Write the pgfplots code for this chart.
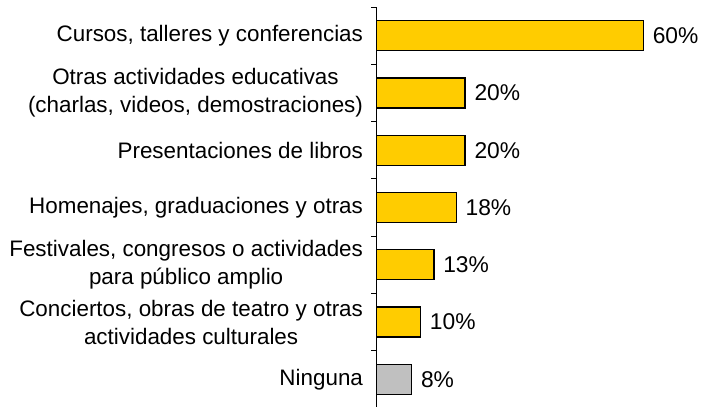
\documentclass[border=0pt]{standalone}
\usepackage{pgfplots}
\pgfplotsset{compat=1.18}
\usepackage{fontspec}
\setmainfont{Liberation Sans}
\definecolor{barY}{HTML}{FFCC00}
\definecolor{barG}{HTML}{C0C0C0}
\begin{document}
\begin{tikzpicture}
\useasboundingbox (0,0) rectangle (352pt,203pt);
\begin{axis}[
  at={(188pt,-1pt)}, anchor=south west,
  scale only axis, width=156pt, height=200.5pt,
  xbar, bar width=15pt,
  xmin=0, xmax=70,
  ymin=-0.5, ymax=6.5, y dir=reverse,
  axis x line=none, axis y line*=left,
  ytick={0,...,6},
  yticklabels={{Cursos, talleres y conferencias},
    {Otras actividades educativas\\(charlas, videos, demostraciones)},
    {Presentaciones de libros},
    {Homenajes, graduaciones y otras},
    {Festivales, congresos o actividades\\para público amplio},
    {Conciertos, obras de teatro y otras\\actividades culturales},
    {Ninguna}},
  major tick length=0pt,
  minor ytick={-0.5,0.5,...,6.5},
  minor tick length=2.5pt,
  tick align=outside,
  y axis line style={black, line width=0.5pt},
  every tick/.style={black, line width=0.5pt},
  yticklabel style={align=center, font=\fontsize{11.2}{14}\selectfont, text=black, xshift=-3pt},
  /pgf/number format/assume math mode=true,
  nodes near coords={\pgfmathprintnumber{\pgfplotspointmeta}\%},
  nodes near coords align={horizontal},
  every node near coord/.append style={font=\fontsize{11.4}{14}\selectfont, black, xshift=1pt},
  point meta=x,
]
\addplot[fill=barY, draw=black, line width=0.7pt, bar shift=0pt] coordinates {
  (60,0) (20,1) (20,2) (18,3) (13,4) (10,5)};
\addplot[fill=barG, draw=black, line width=0.7pt, bar shift=0pt] coordinates {
  (8,6)};
\end{axis}
\end{tikzpicture}
\end{document}
